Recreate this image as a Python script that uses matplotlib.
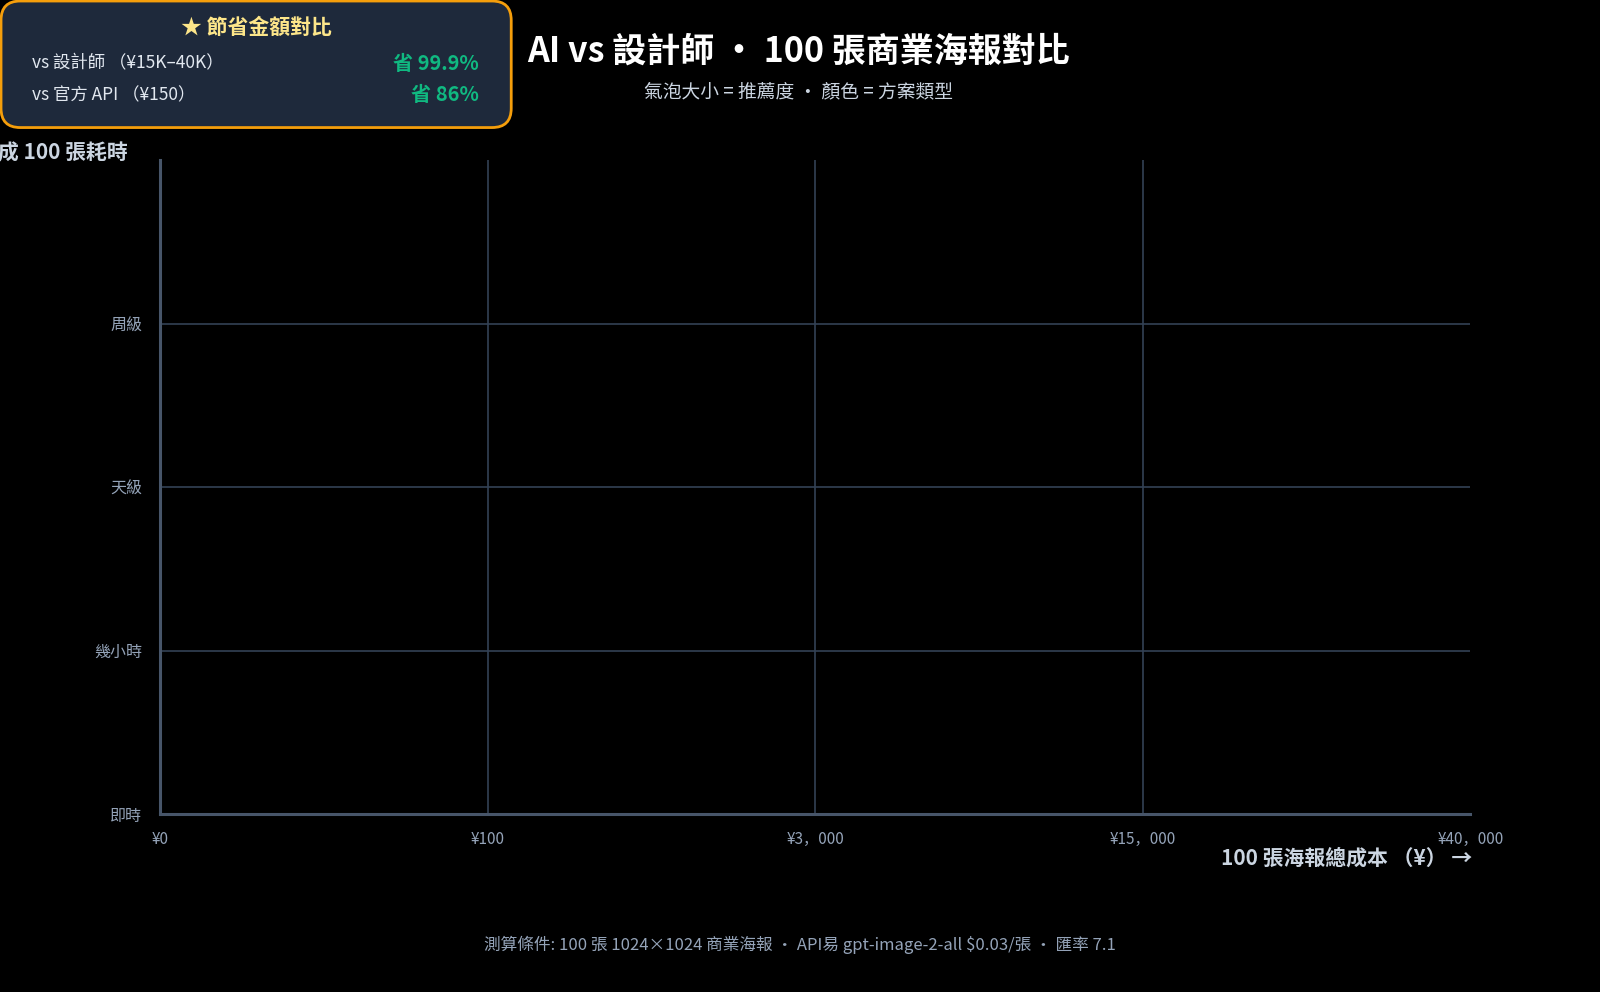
import matplotlib
matplotlib.use('Agg')
import matplotlib.pyplot as plt
from matplotlib.patches import FancyBboxPatch

plt.rcParams['font.family'] = ['Noto Sans CJK TC', 'DejaVu Sans']

# axis categories
x_labels = ['¥0', '¥100', '¥3，000', '¥15，000', '¥40，000']
y_labels = ['即時', '幾小時', '天級', '周級']

# savings box
save_title = '★ 節省金額對比'
save_rows = ['vs 設計師 （¥15K–40K）', 'vs 官方 API （¥150）']
save_vals = ['省 99.9%', '省 86%']

W, H = 1600, 992
S = 1600 / 1568  # positions below measured on a 1568-wide view
fig = plt.figure(figsize=(W / 100, H / 100), dpi=100, facecolor='black')

def px(x, y):
    return x * S / W, 1 - y * S / H

l, b = px(157, 798)
r, t = px(1441, 157)
ax = fig.add_axes([l, b, r - l, t - b])
ax.set_facecolor('black')
ax.set_xlim(0, len(x_labels) - 1)
ax.set_ylim(0, len(y_labels))
grid_c = '#334155'
for i in range(1, len(x_labels) - 1):
    ax.axvline(i, color=grid_c, lw=1.2, zorder=0)
for j in range(1, len(y_labels)):
    ax.axhline(j, color=grid_c, lw=1.2, zorder=0)
for s in ['top', 'right']:
    ax.spines[s].set_visible(False)
for s in ['left', 'bottom']:
    ax.spines[s].set_color('#475569')
    ax.spines[s].set_linewidth(2.2)
ax.set_xticks(range(len(x_labels)))
ax.set_xticklabels(x_labels, color='#94a3b8', fontsize=11,
                   family=['Noto Sans CJK SC', 'DejaVu Sans'])
ax.set_yticks(range(len(y_labels)))
ax.set_yticklabels(y_labels, color='#94a3b8', fontsize=11.5)
ax.tick_params(length=0, pad=12)
ax.tick_params(axis='y', pad=13)

# titles
fig.text(*px(783, 50), 'AI vs 設計師 · 100 張商業海報對比', ha='center', va='center',
         color='white', fontsize=24.5, fontweight='bold')
fig.text(*px(783, 90), '氣泡大小 = 推薦度 · 顏色 = 方案類型', ha='center', va='center',
         color='#cbd5e1', fontsize=13.5)
fig.text(*px(125, 150), '完成 100 張耗時', ha='right', va='center',
         color='#cbd5e1', fontsize=15, fontweight='bold')
fig.text(*px(1443, 841), '100 張海報總成本 （¥） →', ha='right', va='center',
         color='#cbd5e1', fontsize=15, fontweight='bold')
fig.text(*px(784, 926), '測算條件: 100 張 1024×1024 商業海報 · API易 gpt-image-2-all $0.03/張 · 匯率 7.1',
         ha='center', va='center', color='#94a3b8', fontsize=12)

# savings box
bx0, by0 = px(1, 125)
bx1, by1 = px(501, 1)
box = FancyBboxPatch((bx0, by0), bx1 - bx0, by1 - by0,
                     boxstyle='round,pad=0,rounding_size=0.012',
                     transform=fig.transFigure, facecolor='#1e293b',
                     edgecolor='#f59e0b', linewidth=2, mutation_aspect=W / H)
fig.patches.append(box)
fig.text(*px(251, 27), save_title, ha='center', va='center',
         color='#fde68a', fontsize=15, fontweight='bold')
for k, (row, val) in enumerate(zip(save_rows, save_vals)):
    y = 62 + k * 31
    fig.text(*px(31, y), row, ha='left', va='center', color='#e2e8f0', fontsize=12.5)
    fig.text(*px(469, y), val, ha='right', va='center', color='#10b981',
             fontsize=14.5, fontweight='bold')

fig.savefig('out.png', dpi=100, facecolor='black')
